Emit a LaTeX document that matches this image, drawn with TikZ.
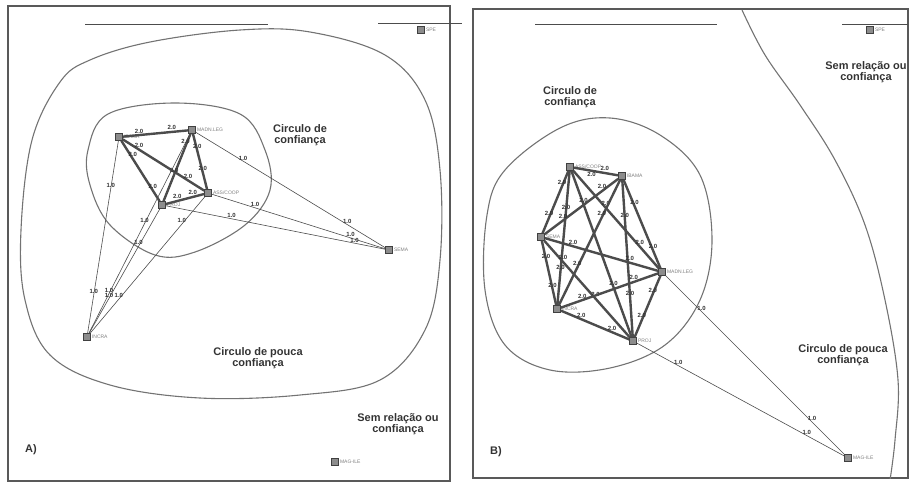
\documentclass[tikz,border=0pt]{standalone}
\usepackage{fontspec}
\setmainfont{Liberation Sans}
\usetikzlibrary{positioning}

\begin{document}
\begin{tikzpicture}[x=1pt,y=-1pt,
  nd/.style={draw=black!75,fill=black!45,minimum size=7pt,inner sep=0pt,line width=0.6pt},
  nlbl/.style={font=\fontsize{5}{5}\selectfont,text=black!50,inner sep=1pt},
  strong/.style={line width=2.4pt,black!70},
  weak/.style={line width=0.6pt,black!70},
  wt/.style={font=\bfseries\fontsize{6}{6}\selectfont,inner sep=0.8pt,text=black!80},
  region/.style={line width=1.1pt,black!55},
  ttl/.style={font=\bfseries\fontsize{11}{11}\selectfont,align=center,text=black!80}]
\useasboundingbox (0,0) rectangle (917,483);

% Panel frames and top rules
\draw[line width=1.3pt,black!65] (8,6) rectangle (450,481);
\draw[line width=1.3pt,black!65] (473,9) rectangle (908,478);
\draw[line width=0.8pt,black!70] (85,24) -- (268,24);
\draw[line width=0.8pt,black!70] (378,23) -- (462,23);
\draw[line width=0.8pt,black!70] (535,24) -- (717,24);
\draw[line width=0.8pt,black!70] (842,24) -- (908,24);

% ---------------- A) ----------------
% Regions
\draw[region] plot[smooth cycle,tension=0.6] coordinates {(60,82) (32,140) (21,230) (25,300) (50,355)
  (110,385) (200,398) (300,395) (380,380) (425,330) (440,260) (440,170) (425,100) (385,55)
  (310,32) (240,30) (150,42) (90,60)};
\draw[region] plot[smooth cycle,tension=0.6] coordinates {(88,150) (108,114) (175,103) (240,114)
  (265,150) (270,190) (245,225) (195,252) (155,255) (110,225) (90,185)};
% Actors
\node[nd,label={[nlbl]right:IBAMA}] (aib) at (119,137) {};
\node[nd,label={[nlbl]right:MADN.LEG}] (amd) at (192,130) {};
\node[nd,label={[nlbl]right:ASS/COOP}] (aas) at (208,193) {};
\node[nd,label={[nlbl]right:PROJ}] (apr) at (162,205) {};
\node[nd,label={[nlbl]right:SEMA}] (ase) at (389,250) {};
\node[nd,label={[nlbl]right:INCRA}] (ain) at (87,337) {};
\node[nd,label={[nlbl]right:MAG-ILE}] (ama) at (335,462) {};
\node[nd,label={[nlbl]right:SPE}] (asp) at (421,30) {};
% Ties of trust
\foreach \a/\b/\p/\q in {aib/amd/.25/.75,aib/aas/.2/.8,aib/apr/.3/.82,amd/apr/.18/.6,
  amd/aas/.3/.7,aas/apr/.3/.7}
  \draw[strong] (\a) -- node[wt,pos=\p,above]{2.0} node[wt,pos=\q,above]{2.0} (\b);
% Weak ties
\foreach \a/\b/\p/\q in {amd/ase/.25/.8,aas/ase/.25/.8,apr/ase/.3/.86,aib/ain/.25/.8,
  amd/ain/.45/.8,apr/ain/.3/.72,aas/ain/.2/.75}
  \draw[weak] (\a) -- node[wt,pos=\p,above]{1.0} node[wt,pos=\q,above]{1.0} (\b);
% Texts
\node[ttl] (atc) at (300,135) {Circulo de\\confiança};
\node[ttl] (atp) at (258,358) {Circulo de pouca\\confiança};
\node[ttl] (ats) at (398,424) {Sem relação ou\\confiança};
\node[font=\bfseries\fontsize{11}{11}\selectfont,text=black!80] (atl) at (31,450) {A)};

% ---------------- B) ----------------
\begin{scope}
\clip (473,9) rectangle (908,478);
\draw[region] plot[smooth,tension=0.6] coordinates {(742,10) (765,55) (800,105) (835,160)
  (865,225) (885,300) (898,380) (895,440) (890,480)};
\node[ttl] (bts) at (866,72) {Sem relação ou\\confiança};
\end{scope}
\draw[region] plot[smooth cycle,tension=0.6] coordinates {(505,170) (560,128) (610,118) (660,135)
  (700,175) (712,240) (700,300) (665,345) (610,368) (550,370) (505,345) (485,290) (487,215)};
% Actors
\node[nd,label={[nlbl]right:ASS/COOP}] (bas) at (570,167) {};
\node[nd,label={[nlbl]right:IBAMA}] (bib) at (622,176) {};
\node[nd,label={[nlbl]right:SEMA}] (bse) at (541,237) {};
\node[nd,label={[nlbl]right:MADN.LEG}] (bmd) at (662,272) {};
\node[nd,label={[nlbl]right:INCRA}] (bin) at (557,309) {};
\node[nd,label={[nlbl]right:PROJ}] (bpr) at (633,341) {};
\node[nd,label={[nlbl]right:MAG-ILE}] (bma) at (848,458) {};
\node[nd,label={[nlbl]right:SPE}] (bsp) at (870,30) {};
% Ties of trust
\draw[strong] (bas) -- node[wt,pos=.4,below]{2.0} node[wt,pos=.7,above]{2.0} (bib);
\foreach \a/\b/\p/\q in {bas/bse/.25/.75,bas/bin/.3/.75,bas/bpr/.2/.7,bas/bmd/.38/.78,
  bib/bse/.22/.75,bib/bin/.3/.7,bib/bpr/.25/.75,bib/bmd/.3/.8,bse/bmd/.25/.75,
  bse/bin/.3/.75,bse/bpr/.22/.6,bmd/bin/.25/.78,bmd/bpr/.3/.72,bin/bpr/.3/.75}
  \draw[strong] (\a) -- node[wt,pos=\p,above]{2.0} node[wt,pos=\q,above]{2.0} (\b);
% Weak ties
\foreach \a/\b in {bmd/bma,bpr/bma}
  \draw[weak] (\a) -- node[wt,pos=.2,above]{1.0} node[wt,pos=.82,above]{1.0} (\b);
% Texts
\node[ttl] (btc) at (570,97) {Circulo de\\confiança};
\node[ttl] (btp) at (843,355) {Circulo de pouca\\confiança};
\node[font=\bfseries\fontsize{11}{11}\selectfont,text=black!80] (btl) at (496,452) {B)};
\end{tikzpicture}
\end{document}
